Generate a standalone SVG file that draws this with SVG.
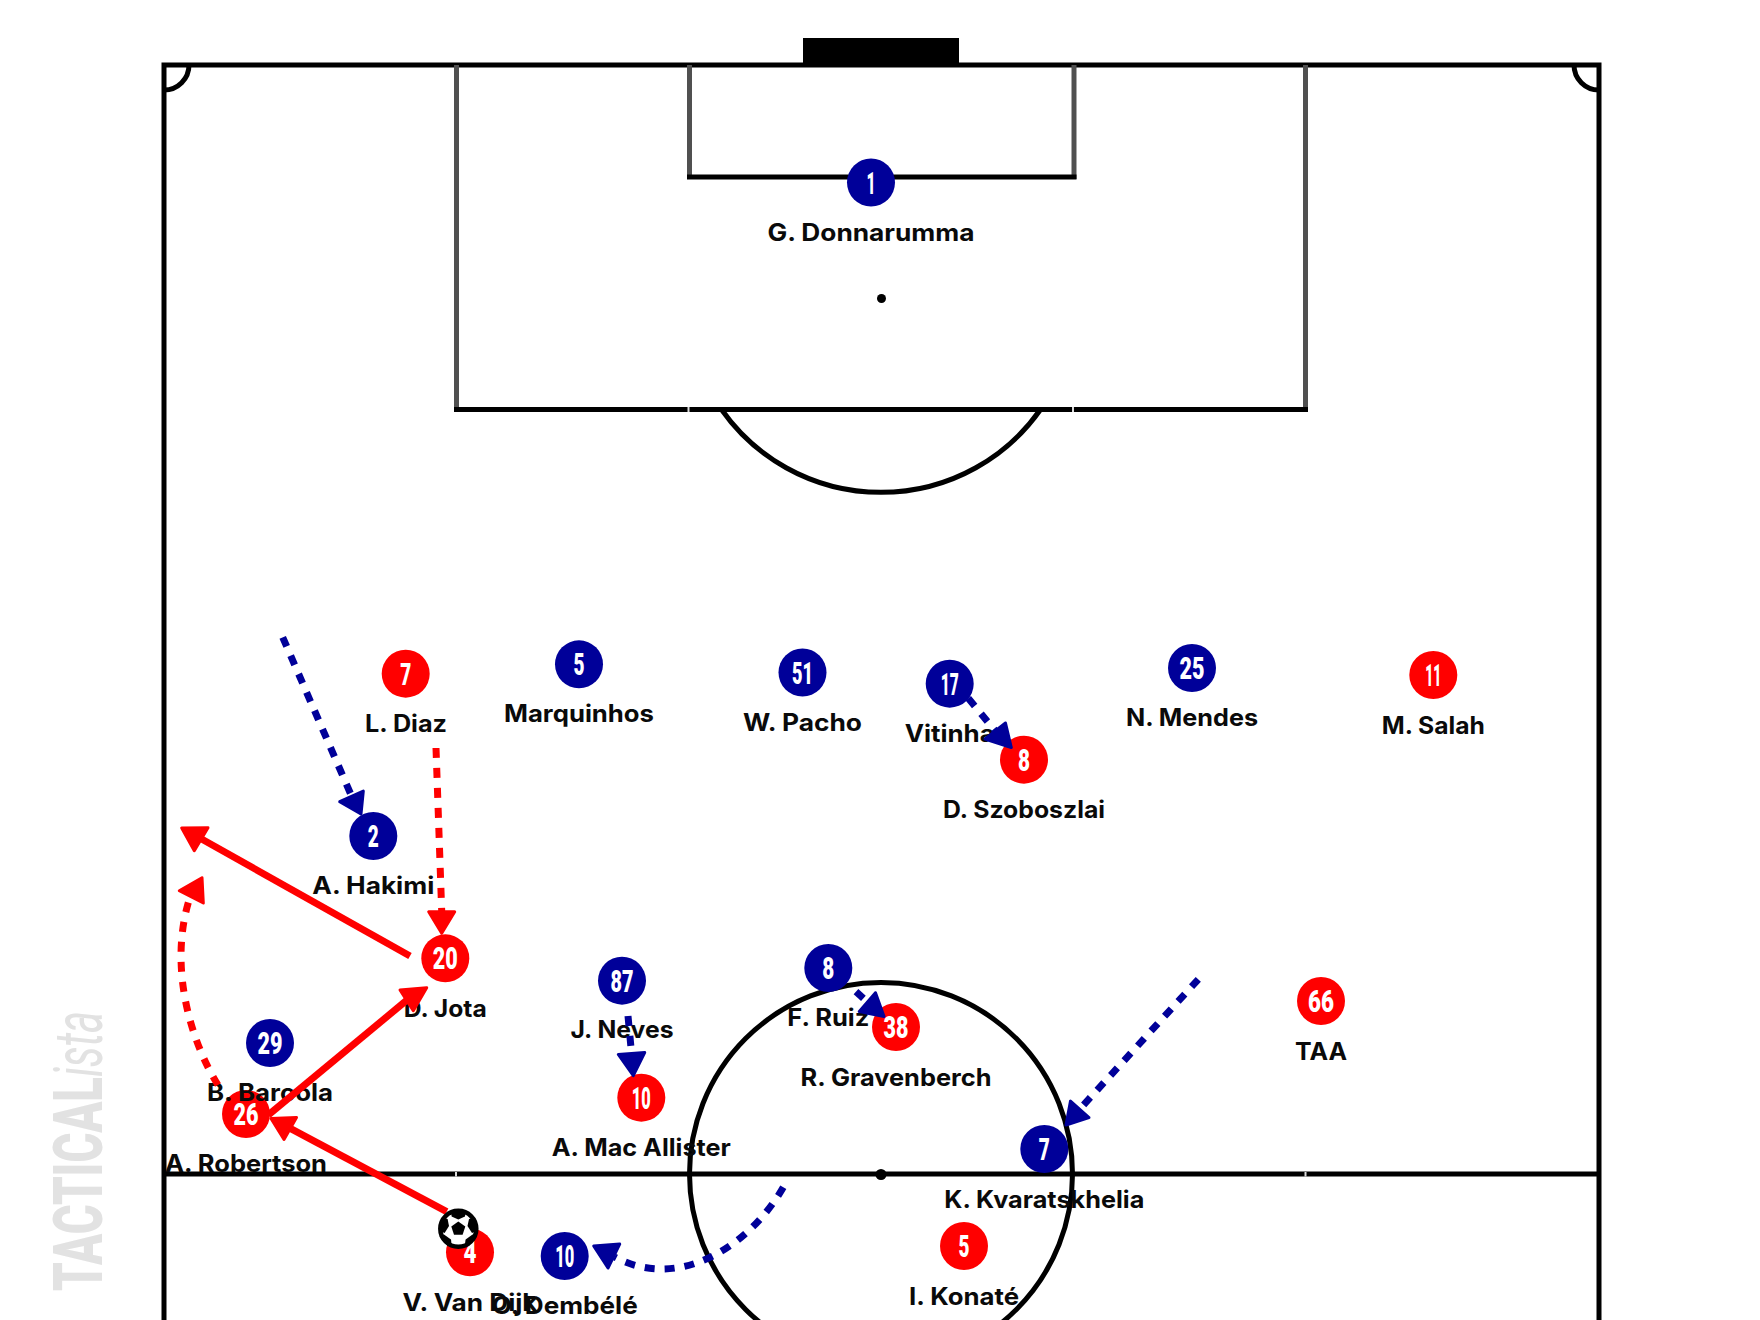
<svg xmlns="http://www.w3.org/2000/svg" width="1760" height="1320" viewBox="0 0 1760 1320">
<style>
.ln{fill:none;stroke:#000;stroke-width:5}
.gr{fill:none;stroke:#505050;stroke-width:5}
.r{fill:#ff0000}
.b{fill:#000099}
.n{font-family:Roboto,"Liberation Sans",sans-serif;font-weight:900;font-size:31px;fill:#fff;text-anchor:middle}
.l{font-family:Inter,"Open Sans",sans-serif;font-weight:700;font-size:24px;fill:#0a0a0a;text-anchor:middle}
.rs{fill:none;stroke:#ff0000;stroke-width:7}
.rd{fill:none;stroke:#ff0000;stroke-width:7;stroke-dasharray:10 10}
.bd{fill:none;stroke:#000099;stroke-width:7;stroke-dasharray:10 10}
.hr{fill:#ff0000;stroke:#ff0000;stroke-width:3;stroke-linejoin:round}
.hb{fill:#000099;stroke:#000099;stroke-width:3;stroke-linejoin:round}
.wm{font-family:Roboto,"Liberation Sans",sans-serif;font-size:69px;fill:#e2e2e2}
</style>
<rect width="1760" height="1320" fill="#fff"/>
<g id="watermark">
<text class="wm" font-weight="900" transform="translate(101.500 1291) rotate(-90)" textLength="214" lengthAdjust="spacingAndGlyphs">TACTICAL</text>
<text class="wm" font-style="italic" font-weight="400" transform="translate(101.500 1077) rotate(-90)" textLength="66" lengthAdjust="spacingAndGlyphs">ista</text>
</g>
<g id="pitch">
<rect x="803" y="38" width="156" height="27" fill="#000"/>
<path class="ln" d="M164 1320V65H1599V1320"/>
<path class="ln" d="M164 1174H1599"/>
<path class="ln" d="M164 90A25 25 0 0 0 189 65"/>
<path class="ln" d="M1574 65A25 25 0 0 0 1599 90"/>
<path class="gr" d="M456.500 65V411"/>
<path class="gr" d="M1305.500 65V411"/>
<path class="ln" d="M454 409.500H1308"/>
<path class="gr" d="M689.500 65V179"/>
<path class="gr" d="M1074 65V179"/>
<path class="ln" d="M687 177H1076.500"/>
<path class="ln" d="M721.500 409.500A195 195 0 0 0 1040.500 409.500"/>
<circle class="ln" cx="881" cy="1174" r="191.500"/>
<circle cx="881.500" cy="298.500" r="4.500"/>
<circle cx="881" cy="1174.500" r="5.500"/>
<path d="M688.500 407V412M1073 407V412M456 1172V1176.500M1305.500 1172V1176.500" stroke="#ddd" stroke-width="2" fill="none"/>
</g>
<g id="node-l-diaz"><circle class="r" cx="405.700" cy="673.700" r="24"/><text class="n" x="405.700" y="684.700" textLength="11" lengthAdjust="spacingAndGlyphs">7</text><text class="l" x="406" y="732.200" textLength="82" lengthAdjust="spacingAndGlyphs">L. Diaz</text></g>
<g id="node-d-szoboszlai"><circle class="r" cx="1024" cy="759.700" r="24"/><text class="n" x="1024" y="770.700" textLength="12" lengthAdjust="spacingAndGlyphs">8</text><text class="l" x="1024" y="818.200" textLength="162" lengthAdjust="spacingAndGlyphs">D. Szoboszlai</text></g>
<g id="node-m-salah"><circle class="r" cx="1433.300" cy="675" r="24"/><text class="n" x="1433.300" y="686" textLength="16" lengthAdjust="spacingAndGlyphs">11</text><text class="l" x="1433.300" y="733.500" textLength="103" lengthAdjust="spacingAndGlyphs">M. Salah</text></g>
<g id="node-d-jota"><circle class="r" cx="445.300" cy="958.300" r="24"/><text class="n" x="445.300" y="969.300" textLength="25" lengthAdjust="spacingAndGlyphs">20</text><text class="l" x="445.300" y="1016.800" textLength="83" lengthAdjust="spacingAndGlyphs">D. Jota</text></g>
<g id="node-a-robertson"><circle class="r" cx="246" cy="1114" r="24"/><text class="n" x="246" y="1125" textLength="25" lengthAdjust="spacingAndGlyphs">26</text><text class="l" x="246" y="1172.200" textLength="162" lengthAdjust="spacingAndGlyphs">A. Robertson</text></g>
<g id="node-v-van-dijk"><circle class="r" cx="470" cy="1252.300" r="24"/><text class="n" x="470" y="1263.300" textLength="13" lengthAdjust="spacingAndGlyphs">4</text><text class="l" x="470" y="1310.500" textLength="135" lengthAdjust="spacingAndGlyphs">V. Van Dijk</text></g>
<g id="node-a-mac-allister"><circle class="r" cx="641.300" cy="1097.700" r="24"/><text class="n" x="641.300" y="1108.700" textLength="19" lengthAdjust="spacingAndGlyphs">10</text><text class="l" x="641.300" y="1156" textLength="179" lengthAdjust="spacingAndGlyphs">A. Mac Allister</text></g>
<g id="node-r-gravenberch"><circle class="r" cx="896" cy="1027" r="24"/><text class="n" x="896" y="1038" textLength="25" lengthAdjust="spacingAndGlyphs">38</text><text class="l" x="896" y="1085.500" textLength="191" lengthAdjust="spacingAndGlyphs">R. Gravenberch</text></g>
<g id="node-i-konate"><circle class="r" cx="964" cy="1246" r="24"/><text class="n" x="964" y="1257" textLength="11" lengthAdjust="spacingAndGlyphs">5</text><text class="l" x="964" y="1304.500" textLength="110" lengthAdjust="spacingAndGlyphs">I. Konaté</text></g>
<g id="node-taa"><circle class="r" cx="1321" cy="1001" r="24"/><text class="n" x="1321" y="1012" textLength="26" lengthAdjust="spacingAndGlyphs">66</text><text class="l" x="1321" y="1059.500" textLength="52" lengthAdjust="spacingAndGlyphs">TAA</text></g>
<g id="node-g-donnarumma"><circle class="b" cx="871" cy="182.500" r="24"/><text class="n" x="871" y="193.500" textLength="9" lengthAdjust="spacingAndGlyphs">1</text><text class="l" x="871" y="241" textLength="207" lengthAdjust="spacingAndGlyphs">G. Donnarumma</text></g>
<g id="node-marquinhos"><circle class="b" cx="579" cy="664.300" r="24"/><text class="n" x="579" y="675.300" textLength="11" lengthAdjust="spacingAndGlyphs">5</text><text class="l" x="579" y="722.200" textLength="150" lengthAdjust="spacingAndGlyphs">Marquinhos</text></g>
<g id="node-w-pacho"><circle class="b" cx="802.500" cy="672.500" r="24"/><text class="n" x="802.500" y="683.500" textLength="21" lengthAdjust="spacingAndGlyphs">51</text><text class="l" x="802.500" y="730.700" textLength="119" lengthAdjust="spacingAndGlyphs">W. Pacho</text></g>
<g id="node-vitinha"><circle class="b" cx="949.700" cy="683.700" r="24"/><text class="n" x="949.700" y="694.700" textLength="18" lengthAdjust="spacingAndGlyphs">17</text><text class="l" x="949.700" y="742" textLength="90" lengthAdjust="spacingAndGlyphs">Vitinha</text></g>
<g id="node-n-mendes"><circle class="b" cx="1192" cy="668" r="24"/><text class="n" x="1192" y="679" textLength="25" lengthAdjust="spacingAndGlyphs">25</text><text class="l" x="1192" y="726.300" textLength="132" lengthAdjust="spacingAndGlyphs">N. Mendes</text></g>
<g id="node-a-hakimi"><circle class="b" cx="373.300" cy="836" r="24"/><text class="n" x="373.300" y="847" textLength="11" lengthAdjust="spacingAndGlyphs">2</text><text class="l" x="373.300" y="894.300" textLength="122" lengthAdjust="spacingAndGlyphs">A. Hakimi</text></g>
<g id="node-b-barcola"><circle class="b" cx="270" cy="1043" r="24"/><text class="n" x="270" y="1054" textLength="25" lengthAdjust="spacingAndGlyphs">29</text><text class="l" x="270" y="1101.300" textLength="126" lengthAdjust="spacingAndGlyphs">B. Barcola</text></g>
<g id="node-o-dembele"><circle class="b" cx="564.700" cy="1256" r="24"/><text class="n" x="564.700" y="1267" textLength="19" lengthAdjust="spacingAndGlyphs">10</text><text class="l" x="564.700" y="1313.500" textLength="146" lengthAdjust="spacingAndGlyphs">O. Dembélé</text></g>
<g id="node-j-neves"><circle class="b" cx="622" cy="980.700" r="24"/><text class="n" x="622" y="991.700" textLength="23" lengthAdjust="spacingAndGlyphs">87</text><text class="l" x="622" y="1038.200" textLength="103" lengthAdjust="spacingAndGlyphs">J. Neves</text></g>
<g id="node-f-ruiz"><circle class="b" cx="828.300" cy="968" r="24"/><text class="n" x="828.300" y="979" textLength="12" lengthAdjust="spacingAndGlyphs">8</text><text class="l" x="828.300" y="1025.800" textLength="82" lengthAdjust="spacingAndGlyphs">F. Ruiz</text></g>
<g id="node-k-kvaratskhelia"><circle class="b" cx="1044.300" cy="1149" r="24"/><text class="n" x="1044.300" y="1160" textLength="11" lengthAdjust="spacingAndGlyphs">7</text><text class="l" x="1044.300" y="1207.500" textLength="200" lengthAdjust="spacingAndGlyphs">K. Kvaratskhelia</text></g>
<g id="connectors">
<path class="bd" d="M282.700 637.300L351.500 795.900"/><polygon class="hb" points="339.700,801.700 363.300,791 361,814"/>
<path class="rd" d="M436 748L441.700 911"/><polygon class="hr" points="428.700,911.700 454.700,911.700 441.700,933.300"/>
<path class="rs" d="M410 956L201.600 839"/><polygon class="hr" points="181.700,828 208,827.700 194.300,850.700"/>
<path class="rs" d="M268.300 1115L406.700 1000.300"/><polygon class="hr" points="400,990 426.700,987.700 413.300,1010.700"/>
<path class="rs" d="M446.700 1211.700L290.700 1128.700"/><polygon class="hr" points="271,1118.500 296.500,1117.500 284,1139.500"/>
<path class="rd" d="M218 1085C190 1040 168 965 190 897"/><polygon class="hr" points="202,877.700 179.300,890.700 203.300,903"/>
<path class="bd" d="M783.300 1187.300C750 1245 680 1292 614.500 1257"/><polygon class="hb" points="593.700,1246 619.700,1244 608,1268"/>
<path class="bd" d="M968.300 698.300L995 730.500"/><polygon class="hb" points="1011.300,747.500 1005.500,723 985,739"/>
<path class="bd" d="M856 991.700L867 1001.700"/><polygon class="hb" points="884,1016.500 875.500,992.700 859.300,1011.500"/>
<path class="bd" d="M628 1016L631.500 1053"/><polygon class="hb" points="618.300,1054.500 644.700,1052.500 633.300,1075.700"/>
<path class="bd" d="M1198.300 979.300L1080 1108.800"/><polygon class="hb" points="1066,1125 1089,1117.500 1070.500,1101"/>
</g>
<g id="ball">
<circle cx="458.300" cy="1228.800" r="18" fill="#fff" stroke="#000" stroke-width="4.500"/>
<polygon points="458.300,1221.500 465.300,1226.600 462.600,1234.800 454,1234.800 451.300,1226.600" fill="#000"/>
<polygon points="451,1211.500 465.600,1211.500 465,1216.500 458.300,1219.500 451.600,1216.500" fill="#000"/>
<polygon points="474,1218 477,1231 472,1233 467.500,1226 469,1219" fill="#000"/>
<polygon points="442.600,1218 439.600,1231 444.600,1233 449,1226 447.600,1219" fill="#000"/>
<polygon points="448,1246 439.500,1236 444,1234.500 451,1239.500 451.500,1244" fill="#000"/>
<polygon points="468.600,1246 477,1236 472.500,1234.500 465.600,1239.500 465,1244" fill="#000"/>
</g>
</svg>
